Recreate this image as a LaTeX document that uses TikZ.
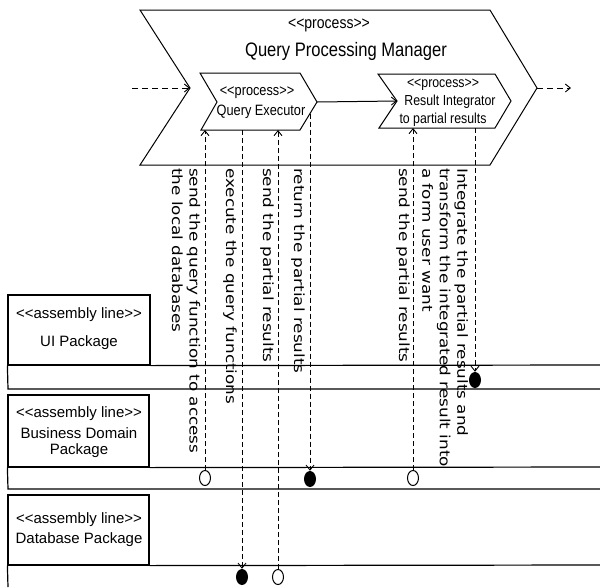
\documentclass[tikz,border=0pt]{standalone}
\usepackage{fontspec}
\setmainfont{Liberation Sans}
\newfontfamily\condfont[FakeStretch=0.85]{Liberation Sans}
\newfontfamily\lblfont[FakeStretch=1.2]{DejaVu Sans}
\usetikzlibrary{arrows.meta,shapes.geometric}
\newcommand\myll{<\kern0pt<}
\newcommand\mygg{>\kern0pt>}
\begin{document}
\begin{tikzpicture}[x=1pt,y=-1pt,
  outline/.style={draw, line width=1pt, line join=miter},
  laneline/.style={draw, line width=1.2pt},
  lifeline/.style={line width=0.9pt, dash pattern=on 5pt off 3pt},
  flowline/.style={line width=1pt, dash pattern=on 6pt off 4pt},
  barb/.style={-{Straight Barb[length=5pt,width=8pt,line width=0.9pt]}},
  opendot/.style={ellipse, draw, line width=1pt, fill=white, minimum width=11pt, minimum height=15pt, inner sep=0pt},
  fulldot/.style={ellipse, fill=black, minimum width=12pt, minimum height=16pt, inner sep=0pt},
  vtext/.style={rotate=-90, anchor=west, inner sep=0pt, align=left, font=\lblfont\fontsize{14}{17.5}\selectfont},
  pkgbox/.style={draw, line width=1.2pt, inner sep=0pt},
  pkgtext/.style={font=\fontsize{15}{18}\selectfont, inner sep=0pt},
  proctext/.style={font=\condfont\fontsize{15}{17}\selectfont, inner sep=0pt},
]
\useasboundingbox (0,0) rectangle (600,587);

% big chevron: Query Processing Manager
\coordinate (m1) at (140,10);
\coordinate (m2) at (490,10);
\coordinate (m3) at (537,88);
\coordinate (m4) at (490,165);
\coordinate (m5) at (140,165);
\coordinate (m6) at (190,88);
\draw[outline] (m1) -- (m2) -- (m3) -- (m4) -- (m5) -- (m6) -- cycle;
\node[font=\condfont\fontsize{16.5}{19}\selectfont, inner sep=0pt] (mt1) at (329,25) {\myll process\mygg};
\node[font=\condfont\fontsize{19.5}{22}\selectfont, inner sep=0pt] (mt2) at (346,51) {Query Processing Manager};

\coordinate (in) at (132,88);
\coordinate (out) at (571,88);
\draw[flowline, barb] (in) -- (m6);
\draw[flowline, barb] (m3) -- (out);

% Query Executor
\coordinate (q1) at (200,73);
\coordinate (q2) at (300,73);
\coordinate (q3) at (317,102);
\coordinate (q4) at (300,130);
\coordinate (q5) at (201,130);
\coordinate (q6) at (217,102);
\draw[outline] (q1) -- (q2) -- (q3) -- (q4) -- (q5) -- (q6) -- cycle;
\node[proctext] (qt1) at (257,93) {\myll process\mygg};
\node[proctext] (qt2) at (261,112) {Query Executor};

% Result Integrator
\coordinate (r1) at (378,74);
\coordinate (r2) at (495,74);
\coordinate (r3) at (511,101);
\coordinate (r4) at (495,128);
\coordinate (r5) at (379,128);
\coordinate (r6) at (397,101);
\draw[outline] (r1) -- (r2) -- (r3) -- (r4) -- (r5) -- (r6) -- cycle;
\node[proctext, font=\condfont\fontsize{14.5}{17}\selectfont] (rt1) at (443,85) {\myll process\mygg};
\node[proctext, font=\condfont\fontsize{14.5}{17}\selectfont] (rt2) at (450,102) {Result Integrator};
\node[proctext, font=\condfont\fontsize{14.5}{17}\selectfont] (rt3) at (443,120) {to partial results};

\draw[line width=1pt, barb] (q3) -- (r6);

% packages / lanes
\node[pkgbox, minimum width=142pt, minimum height=70pt] (ui) at (79,330) {};
\node[pkgtext] (uit1) at (79,315) {\myll assembly line\mygg};
\node[pkgtext] (uit2) at (79,343) {UI Package};
\coordinate (uiend1) at (600,365);
\coordinate (uiend2) at (600,389);
\draw[laneline] (ui.south east) -- (uiend1);
\draw[laneline] (ui.south west) -- (8,389) -- (uiend2);

\node[pkgbox, minimum width=141pt, minimum height=72pt] (bd) at (78.5,431) {};
\node[pkgtext] (bdt1) at (79,414) {\myll assembly line\mygg};
\node[pkgtext] (bdt2) at (79,433) {Business Domain};
\node[pkgtext] (bdt3) at (79,451) {Package};
\coordinate (bdend1) at (600,467);
\coordinate (bdend2) at (600,489);
\draw[laneline] (bd.south east) -- (bdend1);
\draw[laneline] (bd.south west) -- (8,489) -- (bdend2);

\node[pkgbox, minimum width=141pt, minimum height=70pt] (db) at (78.5,530) {};
\node[pkgtext] (dbt1) at (79,520) {\myll assembly line\mygg};
\node[pkgtext] (dbt2) at (79,540) {Database Package};
\coordinate (dbend1) at (600,565);
\coordinate (dbend2) at (8,587);
\draw[laneline] (db.south east) -- (dbend1);
\draw[laneline] (db.south west) -- (dbend2);

% end points on the process shapes
\coordinate (t1) at (205,130);
\coordinate (t2) at (242,130);
\coordinate (t3) at (278,130);
\coordinate (t4) at (310,113.5);
\coordinate (t5) at (413,128);
\coordinate (t6) at (475,128);

% dots
\node[opendot] (d1) at (205,478) {};
\node[fulldot] (d2) at (242,577) {};
\node[opendot] (d3) at (278,577) {};
\node[fulldot] (d4) at (310,479) {};
\node[opendot] (d5) at (413,478) {};
\node[fulldot] (d6) at (475,380) {};

% lifelines
\draw[lifeline, barb] (d1.north) -- (t1);
\draw[lifeline, barb] (t2) -- (d2.north);
\draw[lifeline, barb] (d3.north) -- (t3);
\draw[lifeline, barb] (t4) -- (d4.north);
\draw[lifeline, barb] (d5.north) -- (t5);
\draw[lifeline, barb] (t6) -- (d6.north);

% vertical labels
\node[vtext] (l1) at (186,168) {send the query function to access\\the local databases};
\node[vtext] (l2) at (230,168) {execute the query functions};
\node[vtext] (l3) at (267,168) {send the partial results};
\node[vtext] (l4) at (298,168) {return the partial results};
\node[vtext] (l5) at (403,168) {send the partial results};
\node[vtext] (l6) at (445,168) {Integrate the partial results and\\transform the integrated result into\\a form user want};
\end{tikzpicture}
\end{document}
